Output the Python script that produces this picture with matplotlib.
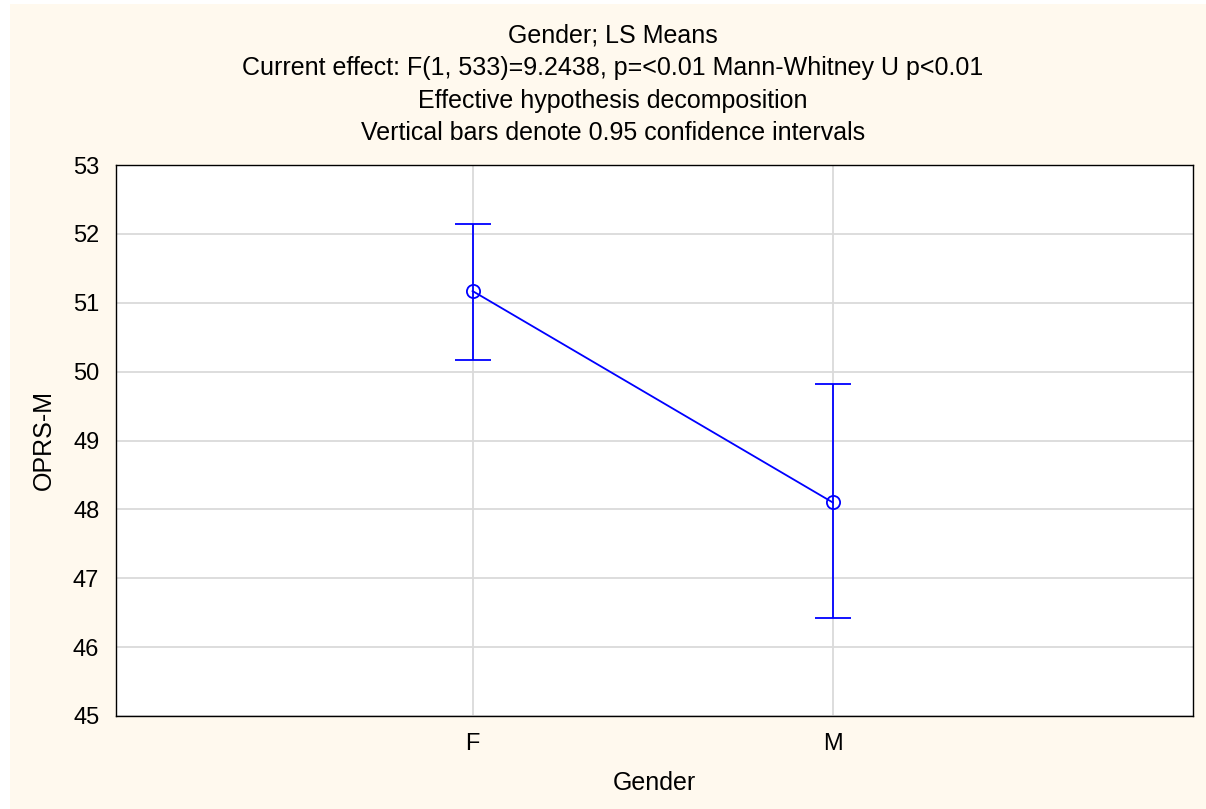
import matplotlib
matplotlib.use("Agg")
import matplotlib.pyplot as plt
from matplotlib.patches import Rectangle

plt.rcParams['font.family'] = ['Liberation Sans', 'DejaVu Sans']

categories = ["F", "M"]
means = [51.17, 48.10]
ci_upper = [52.15, 49.82]
ci_lower = [50.17, 46.43]
yticks = [45, 46, 47, 48, 49, 50, 51, 52, 53]
title_lines = [
    "Gender; LS Means",
    "Current effect: F(1, 533)=9.2438, p=<0.01 Mann-Whitney U p<0.01",
    "Effective hypothesis decomposition",
    "Vertical bars denote 0.95 confidence intervals",
]

W, H = 1206, 809
fig = plt.figure(figsize=(W / 100, H / 100), dpi=100)
fig.patch.set_facecolor("white")
fig.patches.append(Rectangle((10 / W, 0), 1 - 10 / W, 1 - 4 / H, transform=fig.transFigure,
                             facecolor="#FFF9EE", edgecolor="none", zorder=-10))

ax = fig.add_axes([116 / W, 1 - 716 / H, (1193 - 116) / W, (716 - 165) / H])
ax.set_facecolor("white")

x = list(range(len(categories)))
yerr = [[m - l for m, l in zip(means, ci_lower)], [u - m for m, u in zip(means, ci_upper)]]
ax.errorbar(x, means, yerr=yerr, color="#0000FF", lw=1.3, marker="o", ms=9.5,
            mfc="none", mec="#0000FF", mew=1.3, capsize=13, capthick=1.3, zorder=3)

ax.set_xlim(-0.99, 2.0)
ax.set_ylim(45, 53)
ax.set_xticks(x)
ax.set_xticklabels(categories)
ax.set_yticks(yticks)
ax.grid(True, color="#DADADA", lw=1.3)
ax.set_axisbelow(True)
ax.tick_params(axis="both", length=0, labelsize=17, pad=12)
for s in ax.spines.values():
    s.set_color("black")
    s.set_linewidth(1.0)

ax.set_xlabel("Gender", fontsize=18)
ax.set_ylabel("OPRS-M", fontsize=18)
ax.xaxis.set_label_coords(0.5, (716 - 783) / 551)
ax.xaxis.label.set_va("center")
ax.yaxis.set_label_coords((44 - 116) / 1077, 0.5)
ax.yaxis.label.set_va("center")

for i, t in enumerate(title_lines):
    fig.text(613 / W, 1 - (43 + i * 32.5) / H, t, ha="center", va="baseline", fontsize=18)

fig.savefig("out.png", dpi=100, facecolor=fig.get_facecolor())
